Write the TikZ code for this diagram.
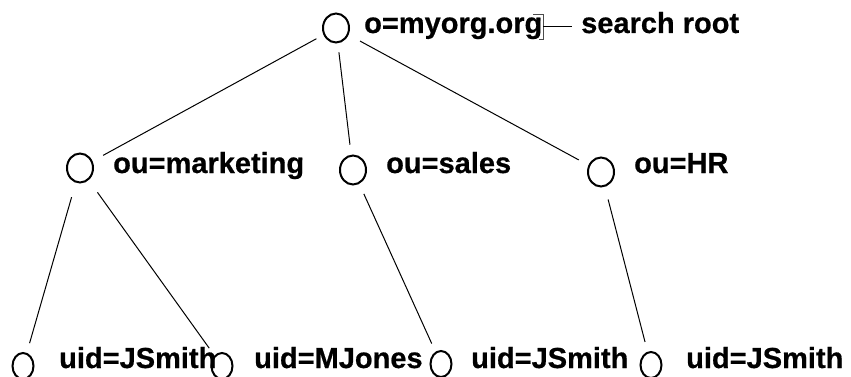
\documentclass[tikz,border=0pt]{standalone}
\usepackage{fontspec}
\setmainfont{Liberation Sans}[BoldFeatures={FakeBold=0.6}]
\usetikzlibrary{shapes.geometric}
\begin{document}
\begin{tikzpicture}[x=1pt,y=-1pt,
  ent/.style={ellipse,draw,line width=2pt,inner sep=0pt,minimum width=26pt,minimum height=29pt},
  leaf/.style={ellipse,draw,line width=2pt,inner sep=0pt,minimum width=21pt,minimum height=26pt},
  lbl/.style={anchor=base west,inner sep=0pt,font=\fontsize{29}{31}\selectfont\bfseries},
  conn/.style={line width=1pt}]
\useasboundingbox (0,0) rectangle (851,377);
% entries
\node[ent] (root) at (336,28) {};
\node[ent] (mkt) at (80,168) {};
\node[ent] (sales) at (353,170) {};
\node[ent] (hr) at (601,172) {};
\node[leaf] (u1) at (23,366) {};
\node[leaf] (u2) at (222,366) {};
\node[leaf] (u3) at (441,364) {};
\node[leaf] (u4) at (651,365) {};
% labels
\node[lbl] (troot) at (364,33) {o=myorg.org};
\node[lbl] (sr) at (581,33) {search root};
\node[lbl] (tmkt) at (113,173) {ou=marketing};
\node[lbl] (tsales) at (386,173) {ou=sales};
\node[lbl] (thr) at (634,173) {ou=HR};
\node[lbl] (tu1) at (59,368) {uid=JSmith};
\node[lbl] (tu2) at (254,368) {uid=MJones};
\node[lbl] (tu3) at (471,368) {uid=JSmith};
\node[lbl] (tu4) at (686,368) {uid=JSmith};
% tree connectors
\draw[conn,shorten <=8pt,shorten >=12pt] (root) -- (mkt);
\draw[conn,shorten <=9pt,shorten >=10pt] (root) -- (sales);
\draw[conn,shorten <=13pt,shorten >=11pt] (root) -- (hr);
\draw[conn,shorten <=15pt,shorten >=10pt] (mkt) -- (u1);
\draw[conn,shorten <=15pt,shorten >=9pt] (mkt) -- (u2);
\draw[conn,shorten <=11pt,shorten >=9pt] (sales) -- (u3);
\draw[conn,shorten <=13pt,shorten >=10pt] (hr) -- (u4);
% search root callout
\coordinate (brk) at (543,27);
\draw[gray!60!black,line width=0.8pt] (533,14) -- (543,14) -- (543,39) -- (539,39);
\draw[conn,shorten >=9pt] (brk) -- (brk -| sr.west);
\end{tikzpicture}
\end{document}
